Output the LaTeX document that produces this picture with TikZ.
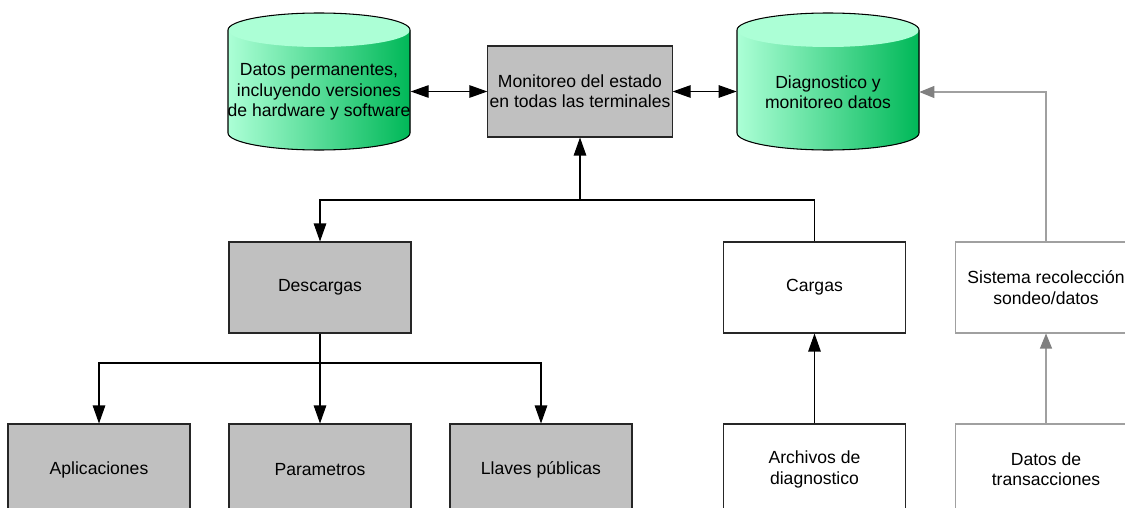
\documentclass[tikz,border=0pt]{standalone}
\usepackage{fontspec}
\setmainfont{Liberation Sans}
\usetikzlibrary{arrows.meta}
\definecolor{cylLight}{RGB}{172,255,214}
\definecolor{cylDark}{RGB}{0,184,88}
\definecolor{boxGray}{RGB}{192,192,192}
\definecolor{lineGray}{RGB}{160,160,160}
\definecolor{tipGray}{RGB}{128,128,128}
\tikzset{
  every node/.style={font=\fontsize{10}{11.6}\selectfont, align=center},
  box/.style={rectangle, draw=black!85, line width=0.6pt, minimum width=3.64cm, minimum height=1.82cm, inner sep=1pt},
  graybox/.style={box, fill=boxGray},
  whitebox/.style={box, fill=white},
  lightbox/.style={box, draw=lineGray, fill=white},
  cyltext/.style={minimum width=3.64cm, inner sep=0pt},
  conn/.style={line width=0.6pt, -{Triangle[length=3.6mm, width=2.5mm]}},
  dconn/.style={line width=0.6pt, {Triangle[length=3.6mm, width=2.5mm]}-{Triangle[length=3.6mm, width=2.5mm]}},
  gconn/.style={line width=0.6pt, draw=lineGray, -{Triangle[length=3mm, width=2.4mm, color=tipGray]}},
  cylout/.style={line width=0.6pt, draw=black},
}
\begin{document}
\begin{tikzpicture}[x=0.02cm, y=-0.02cm]
\useasboundingbox (0,0) rectangle (1125,507);
\clip (0,0) rectangle (1125,507);

% cylinders
\foreach \cx in {319,828}{
  \fill[left color=cylLight, right color=cylDark] (\cx-91,30) -- (\cx-91,133)
     arc[start angle=180, end angle=0, x radius=91, y radius=17] -- (\cx+91,30) -- cycle;
  \fill[cylLight] (\cx,30) ellipse [x radius=91, y radius=17];
  \draw[cylout] (\cx-91,30) -- (\cx-91,133)
     arc[start angle=180, end angle=0, x radius=91, y radius=17] -- (\cx+91,30)
     arc[start angle=0, end angle=-180, x radius=91, y radius=17];
}
\node[cyltext] (lc) at (319,92) {Datos permanentes,\\incluyendo versiones\\de hardware y software};
\node[cyltext] (rc) at (828,92) {Diagnostico y\\monitoreo datos};

% boxes
\node[graybox] (mon) at (580,91.5) {Monitoreo del estado\\en todas las terminales};
\node[graybox] (desc) at (320,287.5) {Descargas};
\node[whitebox] (cargas) at (814.5,287.5) {Cargas};
\node[lightbox] (sis) at (1046,287.5) {Sistema recolección\\sondeo/datos};
\node[graybox] (apl) at (99,469.5) {Aplicaciones};
\node[graybox] (par) at (320,469.5) {Parametros};
\node[graybox] (lla) at (541,469.5) {Llaves públicas};
\node[whitebox] (arch) at (814.5,469.5) {Archivos de\\diagnostico};
\node[lightbox] (trans) at (1046,469.5) {Datos de\\transacciones};

% connectors
\draw[dconn] (mon.west -| lc.east) -- (mon.west);
\draw[dconn] (mon.east) -- (mon.east -| rc.west);
\coordinate (j) at (580,200);
\draw[conn] (cargas.north) |- (j) -- (mon.south);
\draw[conn] (j) -| (desc.north);
\coordinate (j2) at (320,363);
\draw[conn] (desc.south) -- (par.north);
\draw[conn] (j2) -| (apl.north);
\draw[conn] (j2) -| (lla.north);
\draw[conn] (arch.north) -- (cargas.south);
\draw[gconn] (trans.north) -- (sis.north |- sis.south);
\draw[gconn] (sis.north) |- (rc.east);
\end{tikzpicture}
\end{document}
